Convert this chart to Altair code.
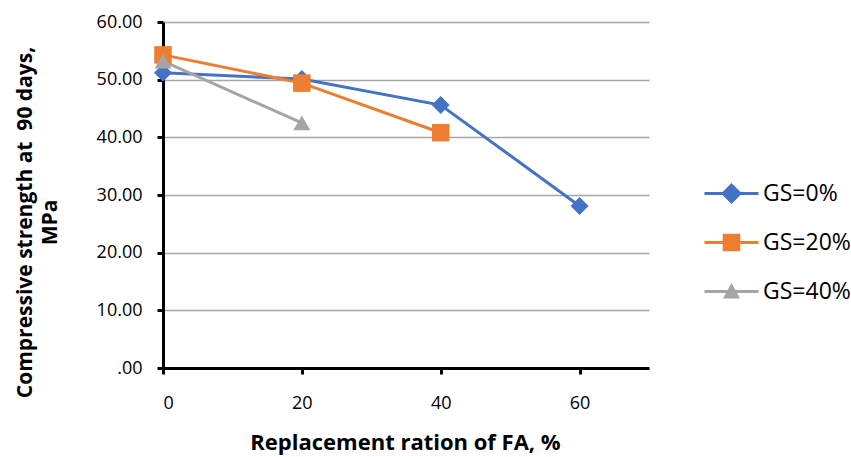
import altair as alt
import pandas as pd

# ---- data ----
series_names = ["GS=0%", "GS=20%", "GS=40%"]
fa_gs0 = [0, 20, 40, 60]
cs_gs0 = [51.2, 50.1, 45.6, 28.1]
fa_gs20 = [0, 20, 40]
cs_gs20 = [54.3, 49.4, 40.8]
fa_gs40 = [0, 20]
cs_gs40 = [53.2, 42.5]
x_ticks = [0, 20, 40, 60]
y_ticks = [0, 10, 20, 30, 40, 50, 60]

colors = ["#4472C4", "#ED7D31", "#A5A5A5"]
plain_shapes = ["diamond", "square", "triangle-up"]
marker_sizes = [324, 289, 300]
# legend symbols: marker with a line through it (custom paths)
legend_shapes = [
    "M-2.7,-0.15H2.7V0.15H-2.7Z M0,-1.05L1.05,0L0,1.05L-1.05,0Z",
    "M-2.7,-0.15H2.7V0.15H-2.7Z M-0.88,-0.88H0.88V0.88H-0.88Z",
    "M-2.7,-0.15H2.7V0.15H-2.7Z M0,-0.85L0.85,0.7L-0.85,0.7Z",
]

rows = []
for name, xs, ys in zip(series_names, [fa_gs0, fa_gs20, fa_gs40], [cs_gs0, cs_gs20, cs_gs40]):
    for xv, yv in zip(xs, ys):
        rows.append({"fa": xv, "cs": yv, "series": name})
df = pd.DataFrame(rows)

FONT = "Open Sans"

x_enc = alt.X(
    "fa:Q",
    scale=alt.Scale(domain=[0, 70], nice=False, zero=False),
    axis=alt.Axis(
        values=x_ticks, grid=False, format="d",
        title="Replacement ration of FA, %",
        domainColor="black", domainWidth=3,
        tickColor="black", tickWidth=3, tickSize=6,
        labelFont=FONT, labelFontSize=18, labelColor="black", labelPadding=20,
        titleFont=FONT, titleFontSize=22, titleFontWeight="bold", titleColor="black",
        titleX=242, titleY=74, titleBaseline="middle",
    ),
)
y_enc = alt.Y(
    "cs:Q",
    scale=alt.Scale(domain=[0, 60], nice=False),
    axis=alt.Axis(
        values=y_ticks,
        labelExpr="datum.value == 0 ? '.00' : format(datum.value, '.2f')",
        title=["Compressive strength at\u00a0 90 days,", "MPa"],
        grid=True, gridColor="#A6A6A6", gridWidth=1.5,
        domainColor="black", domainWidth=3,
        tickColor="black", tickWidth=3, tickSize=6,
        labelFont=FONT, labelFontSize=18, labelColor="black", labelPadding=15,
        titleFont=FONT, titleFontSize=21, titleFontWeight="bold", titleColor="black",
        titleLineHeight=25, titleX=-138, titleY=200, titleBaseline="middle",
        titleAngle=270,
    ),
)

base = alt.Chart(df).encode(x=x_enc, y=y_enc)

lines = base.mark_line(strokeWidth=3).encode(
    color=alt.Color("series:N", scale=alt.Scale(domain=series_names, range=colors), legend=None),
    detail="series:N",
)

points = base.mark_point(filled=True, opacity=1).encode(
    color=alt.Color("series:N", scale=alt.Scale(domain=series_names, range=colors), legend=None),
    shape=alt.Shape("series:N", scale=alt.Scale(domain=series_names, range=plain_shapes), legend=None),
    size=alt.Size("series:N", scale=alt.Scale(domain=series_names, range=marker_sizes), legend=None),
)

legend_cfg = dict(
    title=None, orient="none", legendX=557, legendY=160,
    symbolSize=400, symbolStrokeWidth=0, labelOffset=20,
    labelFont=FONT, labelFontSize=23, labelColor="black",
    rowPadding=25, padding=0,
)

legend_layer = base.transform_filter("datum.fa < 0").mark_point(filled=True, opacity=1).encode(
    color=alt.Color("series:N", scale=alt.Scale(domain=series_names, range=colors),
                    legend=alt.Legend(**legend_cfg)),
    shape=alt.Shape("series:N", scale=alt.Scale(domain=series_names, range=legend_shapes),
                    legend=alt.Legend(**legend_cfg)),
)

chart = (
    alt.layer(lines, points, legend_layer)
    .resolve_scale(shape="independent", color="independent", size="independent")
    .resolve_legend(shape="independent", color="independent", size="independent")
    .properties(
        width=486, height=346,
        padding={"left": 163, "top": 22, "right": 202, "bottom": 89},
        autosize="none",
        background="white",
    )
    .configure_view(stroke=None)
)

chart.save("out.html", embed_options={"renderer": "svg", "actions": False})
